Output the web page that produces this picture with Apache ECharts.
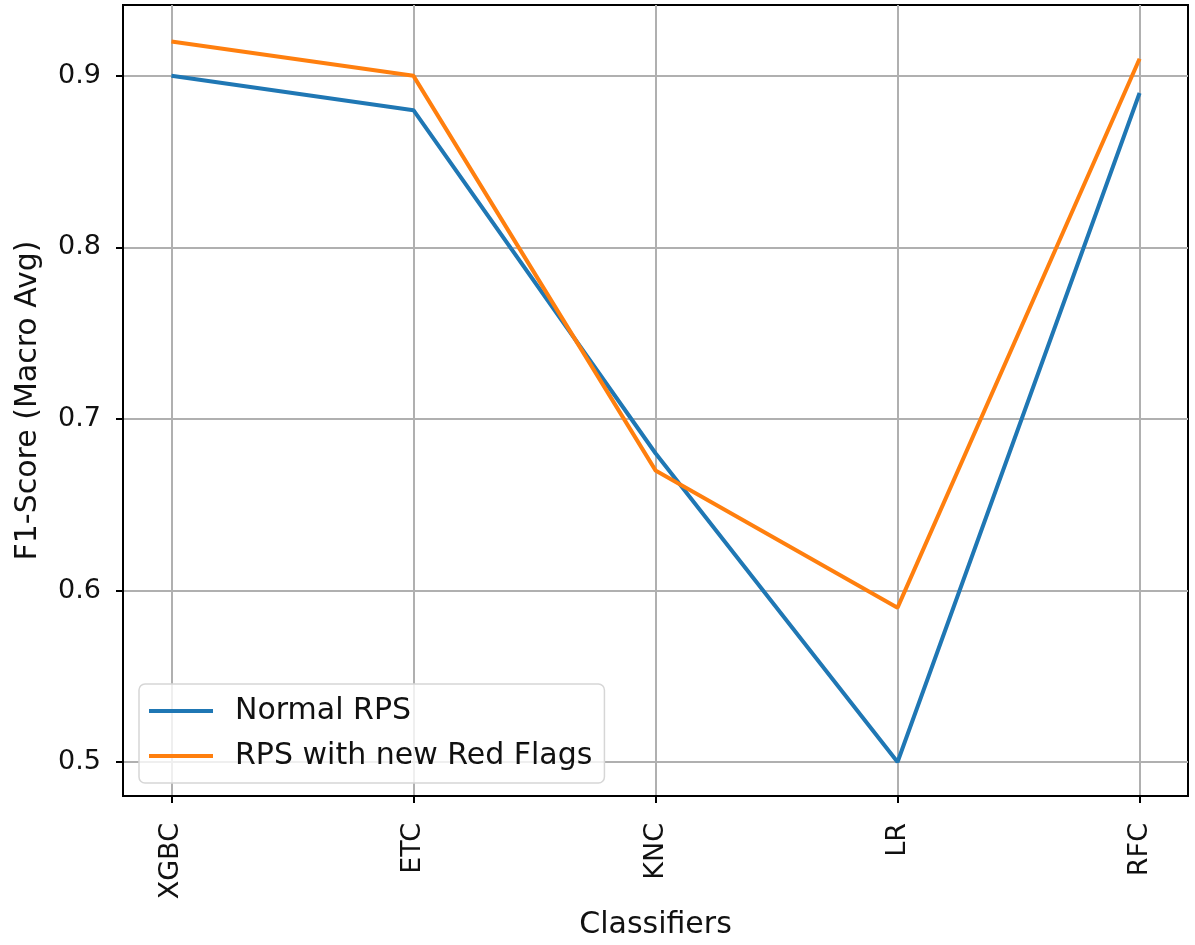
<!DOCTYPE html>
<html>
<head>
<meta charset="utf-8">
<script src="https://cdn.jsdelivr.net/npm/echarts@6/dist/echarts.min.js"></script>
<style>
  html, body { margin: 0; padding: 0; background: #fff; }
  #chart { width: 1195px; height: 945px; }
</style>
</head>
<body>
<div id="chart"></div>
<script>
const classifiers = ['XGBC', 'ETC', 'KNC', 'LR', 'RFC'];
const normalRps = [0.90, 0.88, 0.68, 0.50, 0.89];
const redFlagRps = [0.92, 0.90, 0.67, 0.59, 0.91];
const yTicks = [0.5, 0.6, 0.7, 0.8, 0.9];

const font = 'DejaVu Sans';
const xIdx = classifiers.map((c, i) => i);
const toPts = arr => arr.map((v, i) => [i, v]);

const chart = echarts.init(document.getElementById('chart'));
chart.setOption({
  animation: false,
  textStyle: { fontFamily: font },
  grid: {
    left: 123, right: 7, top: 5, bottom: 148,
    show: true, borderColor: '#000', borderWidth: 2
  },
  legend: {
    left: 139, top: 684,
    orient: 'vertical',
    icon: 'rect',
    itemWidth: 64, itemHeight: 4,
    itemGap: 15,
    padding: [12, 12, 12, 10],
    backgroundColor: 'rgba(255,255,255,0.8)',
    borderColor: '#d6d6d6', borderWidth: 1.5, borderRadius: 6,
    textStyle: { fontFamily: font, fontSize: 30, color: '#111', lineHeight: 30, padding: [0, 0, 0, 17] },
    data: ['Normal RPS', 'RPS with new Red Flags']
  },
  xAxis: {
    type: 'value',
    min: -0.2, max: 4.2,
    name: 'Classifiers',
    nameLocation: 'middle',
    nameGap: 114,
    nameTextStyle: { fontFamily: font, fontSize: 30, color: '#111' },
    axisLine: { show: true, onZero: false, lineStyle: { color: '#000', width: 2 } },
    axisTick: { show: true, length: 7, lineStyle: { color: '#000', width: 2 }, customValues: xIdx },
    axisLabel: {
      rotate: 90, margin: 27, fontFamily: font, fontSize: 27, color: '#111',
      customValues: xIdx,
      formatter: v => classifiers[Math.round(v)]
    },
    splitLine: { show: true, lineStyle: { color: '#b0b0b0', width: 2 } }
  },
  yAxis: {
    type: 'value',
    min: 0.4802, max: 0.9413,
    name: 'F1-Score (Macro Avg)',
    nameLocation: 'middle',
    nameGap: 80,
    nameTextStyle: { fontFamily: font, fontSize: 30, color: '#111' },
    axisLine: { show: true, onZero: false, lineStyle: { color: '#000', width: 2 } },
    axisTick: { show: true, length: 7, lineStyle: { color: '#000', width: 2 }, customValues: yTicks },
    axisLabel: {
      margin: 22, fontFamily: font, fontSize: 27, color: '#111',
      customValues: yTicks,
      formatter: v => v.toFixed(1)
    },
    splitLine: { show: true, lineStyle: { color: '#b0b0b0', width: 2 } }
  },
  series: [
    {
      name: 'Normal RPS', type: 'line', symbol: 'none',
      itemStyle: { color: '#1f77b4' },
      lineStyle: { color: '#1f77b4', width: 4 },
      data: toPts(normalRps)
    },
    {
      name: 'RPS with new Red Flags', type: 'line', symbol: 'none',
      itemStyle: { color: '#ff7f0e' },
      lineStyle: { color: '#ff7f0e', width: 4 },
      data: toPts(redFlagRps)
    }
  ]
});
</script>
</body>
</html>
